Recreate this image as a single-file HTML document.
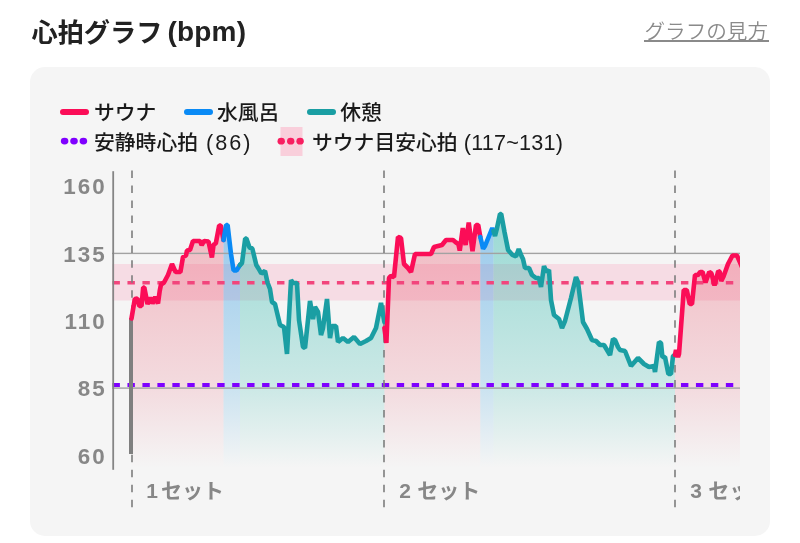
<!DOCTYPE html>
<html lang="ja">
<head>
<meta charset="utf-8">
<title>心拍グラフ</title>
<style>
html,body{margin:0;padding:0;background:#fff;}
body{width:800px;height:543px;position:relative;overflow:hidden;font-family:"Liberation Sans","Noto Sans CJK JP",sans-serif;}
.title{position:absolute;left:31.5px;top:14px;font-size:26.2px;font-weight:700;color:#222;line-height:38px;white-space:nowrap;}
.tl{font-size:28px;letter-spacing:0.2px;margin-left:-3px;position:relative;top:-1px;}
.la{font-size:21.6px;letter-spacing:2px;margin-left:0px;}
.lb{font-size:21.6px;letter-spacing:0.2px;margin-left:0;}
.link{position:absolute;left:644.5px;top:16.5px;font-size:20.6px;font-weight:350;color:#8a8a8a;line-height:30px;white-space:nowrap;}
.link u{text-decoration:none;}
.ul{position:absolute;left:644px;top:40px;width:124.5px;height:1.6px;background:#8a8a8a;}
.card{position:absolute;left:29.8px;top:66.5px;width:740.2px;height:469.7px;background:#f5f5f5;border-radius:15px;}
.lg{position:absolute;font-size:20.8px;font-weight:500;color:#1a1a1a;line-height:30px;white-space:nowrap;}
.la{font-weight:400;}
.pill{position:absolute;height:6px;border-radius:3px;width:29px;}
.ylab{position:absolute;width:64px;text-align:right;font-size:22.4px;font-weight:700;color:#878787;line-height:24px;letter-spacing:2px;}
.xlab{position:absolute;font-size:21px;font-weight:700;color:#878787;line-height:24px;white-space:nowrap;letter-spacing:0px;}
.xlab b{font-size:21px;margin-right:3px;}
svg{position:absolute;left:0;top:0;}
</style>
</head>
<body>
<div class="title">心拍グラフ<span class="tl"> (bpm)</span></div>
<div class="link"><u>グラフの見方</u></div><div class="ul"></div>
<div class="card"></div>

<div class="pill" style="left:60.4px;top:108.7px;background:#fb0d57"></div>
<div class="lg" style="left:94px;top:97.7px;">サウナ</div>
<div class="pill" style="left:184px;top:108.7px;background:#0a8af5"></div>
<div class="lg" style="left:217px;top:97.7px;">水風呂</div>
<div class="pill" style="left:307.2px;top:108.7px;background:#1a9ea3"></div>
<div class="lg" style="left:340.2px;top:97.7px;">休憩</div>
<div class="lg" style="left:94px;top:128px;">安静時心拍<span class="la"> (86)</span></div>
<div class="lg" style="left:312px;top:128px;">サウナ目安心拍<span class="la lb"> (117~131)</span></div>

<div class="ylab" style="left:42.6px;top:175.2px;">160</div>
<div class="ylab" style="left:42.6px;top:242.6px;">135</div>
<div class="ylab" style="left:42.6px;top:310px;">110</div>
<div class="ylab" style="left:42.6px;top:377.4px;">85</div>
<div class="ylab" style="left:42.6px;top:444.8px;">60</div>

<svg width="800" height="543" viewBox="0 0 800 543">
<defs>
<linearGradient id="gr" gradientUnits="userSpaceOnUse" x1="0" y1="225" x2="0" y2="468"><stop offset="0" stop-color="#e8405a" stop-opacity="0.33"/><stop offset="0.68" stop-color="#e8405a" stop-opacity="0.14"/><stop offset="1" stop-color="#e8405a" stop-opacity="0"/></linearGradient>
<linearGradient id="gb" gradientUnits="userSpaceOnUse" x1="0" y1="225" x2="0" y2="468"><stop offset="0" stop-color="#2f96e2" stop-opacity="0.46"/><stop offset="0.68" stop-color="#3aa4e0" stop-opacity="0.22"/><stop offset="1" stop-color="#3aa4e0" stop-opacity="0"/></linearGradient>
<linearGradient id="gg" gradientUnits="userSpaceOnUse" x1="0" y1="225" x2="0" y2="468"><stop offset="0" stop-color="#22b5a8" stop-opacity="0.42"/><stop offset="0.68" stop-color="#22b5a8" stop-opacity="0.19"/><stop offset="1" stop-color="#22b5a8" stop-opacity="0"/></linearGradient>
<clipPath id="cp"><rect x="100" y="160" width="640" height="360"/></clipPath>
</defs>
<!-- legend dots -->
<g fill="#7f00ff"><ellipse cx="64.6" cy="141.1" rx="3.8" ry="3.4"/><ellipse cx="74" cy="141.1" rx="3.8" ry="3.4"/><ellipse cx="83.4" cy="141.1" rx="3.8" ry="3.4"/></g>
<rect x="280.5" y="127" width="22" height="29" fill="#f9cfdb"/>
<g fill="#f81e60"><ellipse cx="281.2" cy="141.2" rx="3.7" ry="3.4"/><ellipse cx="290.7" cy="141.2" rx="3.7" ry="3.4"/><ellipse cx="300.1" cy="141.2" rx="3.7" ry="3.4"/></g>

<g clip-path="url(#cp)">
<!-- target band -->
<rect x="112" y="264" width="628" height="36.5" fill="#ff6f9c" fill-opacity="0.18"/>
<!-- grid lines -->
<path d="M131.5,318.5 L134.8,299 L137.4,298.6 L139.3,306 L141.5,306 L143.2,287.5 L144.3,287.5 L147.5,304 L150.3,297.5 L152.5,303.5 L155.3,297 L158,303.5 L159.7,291 L161,284.5 L164,282.5 L168,275 L172,264 L175.6,272 L180.4,272 L183,257 L186,255.5 L187,250.5 L190,250 L193,241 L200,241 L201.7,245 L204,241 L208.5,241.5 L211.9,257.5 L213.6,244.5 L215.8,243.5 L219.2,225.5 L220.8,225.5 L223.5,240 L223.5,468 L131.5,468 Z" fill="url(#gr)"/>
<path d="M223.5,240 L226.2,225 L227.6,225 L231,254 L233.6,270.5 L236.5,270.5 L240,265 L240,468 L223.5,468 Z" fill="url(#gb)"/>
<path d="M240,265 L242,263 L245.2,238.5 L246.4,238.5 L249.5,247.5 L252.3,248.5 L256.3,265 L258.5,268.5 L261.3,273.5 L265,271 L267.5,282.5 L270,289 L272,302 L275,304 L280,325 L284,327 L287,354 L291,280 L293,283 L297,283 L299,320 L303,347 L305,348 L310,301 L313,319 L315,307 L318,312 L321,335 L323,328 L327,299 L330,338 L332,326 L336,326 L338,342 L343,338 L348,342 L354,337 L360,344 L366,341 L371,338 L376,328 L381,303 L384.4,322 L384.4,468 L240,468 Z" fill="url(#gg)"/>
<path d="M384.4,328 L386.4,343 L389,278 L391,276 L394,277 L398,237 L401,238 L404,264 L408,268 L411,272 L415,254 L431,254 L434,247 L442,245 L446,240 L453,240 L456,242.5 L458.4,244 L459.75,250.6 L462.8,228.1 L465.6,245 L468.75,222.5 L472.5,251.2 L476,225 L478.2,225 L480.3,237 L480.3,468 L384.4,468 Z" fill="url(#gr)"/>
<path d="M480.3,237 L483.1,248.7 L485,246 L492.3,228 L493.5,231 L493.5,468 L480.3,468 Z" fill="url(#gb)"/>
<path d="M493.5,231 L495,236 L496.8,229 L500,214 L501.2,214 L504.5,232 L508.1,250 L512.5,255 L516,256.5 L518.75,249 L521.5,256 L523,259 L525,268 L529,268 L532,275 L536,278 L539,278 L541,287 L544,266 L546.4,272 L549,270 L551,300 L554,315 L559,319 L562,328 L565,321 L571,298 L576,277 L578,282 L583,322 L587,329 L592,340 L596,341 L600,345 L604,345 L610,355 L613,339 L615,340 L618,347 L620,350 L625,351 L631,366 L638,358 L644,364 L649,367 L654,366 L655,372 L659,342 L661,343 L662.4,357 L665,357 L668.4,374 L671,374 L673,356 L675,355 L675,468 L493.5,468 Z" fill="url(#gg)"/>
<path d="M675,355 L676,350 L678,357 L679,354 L683.75,290 L686.75,290 L689.75,304 L692,304 L695,275 L698,275 L700.25,272 L702.5,272 L705.5,282.5 L709.25,272 L711.5,273.5 L714.5,285.5 L718.25,271 L719.75,272 L721.25,281 L723.5,276.5 L728,264 L732.5,255.5 L737,255.5 L742,267 L742,468 L675,468 Z" fill="url(#gr)"/>
<rect x="112" y="252.7" width="628" height="1.4" fill="#a2a2a2"/>
<rect x="112" y="387.4" width="628" height="1.4" fill="#a2a2a2"/>
<!-- pink dashed -->
<line x1="112" y1="282.7" x2="740" y2="282.7" stroke="#f2457c" stroke-width="3.6" stroke-dasharray="7.4 7.56" stroke-dashoffset="-0.5"/>
<!-- purple dashed -->
<line x1="112" y1="385.1" x2="740" y2="385.1" stroke="#7f00ff" stroke-width="4" stroke-dasharray="7.4 7.56" stroke-dashoffset="-0.5"/>
<!-- set separators -->
<g stroke="#7d7d7d" stroke-width="1.6" stroke-dasharray="7.5 7.46">
<line x1="132" y1="170.6" x2="132" y2="509"/>
<line x1="384" y1="170.6" x2="384" y2="509"/>
<line x1="675" y1="170.6" x2="675" y2="509"/>
</g>
<rect x="129" y="318" width="4" height="136" fill="#7f7f7f"/>
<path d="M131.5,318.5 L134.8,299 L137.4,298.6 L139.3,306 L141.5,306 L143.2,287.5 L144.3,287.5 L147.5,304 L150.3,297.5 L152.5,303.5 L155.3,297 L158,303.5 L159.7,291 L161,284.5 L164,282.5 L168,275 L172,264 L175.6,272 L180.4,272 L183,257 L186,255.5 L187,250.5 L190,250 L193,241 L200,241 L201.7,245 L204,241 L208.5,241.5 L211.9,257.5 L213.6,244.5 L215.8,243.5 L219.2,225.5 L220.8,225.5 L223.5,240" fill="none" stroke="#fb0d57" stroke-width="4.6" stroke-linejoin="bevel" stroke-linecap="round"/>
<path d="M223.5,240 L226.2,225 L227.6,225 L231,254 L233.6,270.5 L236.5,270.5 L240,265" fill="none" stroke="#0a8af5" stroke-width="4.6" stroke-linejoin="bevel" stroke-linecap="round"/>
<path d="M240,265 L242,263 L245.2,238.5 L246.4,238.5 L249.5,247.5 L252.3,248.5 L256.3,265 L258.5,268.5 L261.3,273.5 L265,271 L267.5,282.5 L270,289 L272,302 L275,304 L280,325 L284,327 L287,354 L291,280 L293,283 L297,283 L299,320 L303,347 L305,348 L310,301 L313,319 L315,307 L318,312 L321,335 L323,328 L327,299 L330,338 L332,326 L336,326 L338,342 L343,338 L348,342 L354,337 L360,344 L366,341 L371,338 L376,328 L381,303 L384.4,322" fill="none" stroke="#1a9ea3" stroke-width="4.6" stroke-linejoin="bevel" stroke-linecap="round"/>
<path d="M384.4,328 L386.4,343 L389,278 L391,276 L394,277 L398,237 L401,238 L404,264 L408,268 L411,272 L415,254 L431,254 L434,247 L442,245 L446,240 L453,240 L456,242.5 L458.4,244 L459.75,250.6 L462.8,228.1 L465.6,245 L468.75,222.5 L472.5,251.2 L476,225 L478.2,225 L480.3,237" fill="none" stroke="#fb0d57" stroke-width="4.6" stroke-linejoin="bevel" stroke-linecap="round"/>
<path d="M480.3,237 L483.1,248.7 L485,246 L492.3,228 L493.5,231" fill="none" stroke="#0a8af5" stroke-width="4.6" stroke-linejoin="bevel" stroke-linecap="round"/>
<path d="M493.5,231 L495,236 L496.8,229 L500,214 L501.2,214 L504.5,232 L508.1,250 L512.5,255 L516,256.5 L518.75,249 L521.5,256 L523,259 L525,268 L529,268 L532,275 L536,278 L539,278 L541,287 L544,266 L546.4,272 L549,270 L551,300 L554,315 L559,319 L562,328 L565,321 L571,298 L576,277 L578,282 L583,322 L587,329 L592,340 L596,341 L600,345 L604,345 L610,355 L613,339 L615,340 L618,347 L620,350 L625,351 L631,366 L638,358 L644,364 L649,367 L654,366 L655,372 L659,342 L661,343 L662.4,357 L665,357 L668.4,374 L671,374 L673,356 L675,355" fill="none" stroke="#1a9ea3" stroke-width="4.6" stroke-linejoin="bevel" stroke-linecap="round"/>
<path d="M675,355 L676,350 L678,357 L679,354 L683.75,290 L686.75,290 L689.75,304 L692,304 L695,275 L698,275 L700.25,272 L702.5,272 L705.5,282.5 L709.25,272 L711.5,273.5 L714.5,285.5 L718.25,271 L719.75,272 L721.25,281 L723.5,276.5 L728,264 L732.5,255.5 L737,255.5 L742,267" fill="none" stroke="#fb0d57" stroke-width="4.6" stroke-linejoin="bevel" stroke-linecap="round"/>
</g>
<!-- y axis -->
<rect x="112.3" y="171.2" width="1.8" height="298.6" fill="#858585"/>
</svg>

<div class="xlab" style="left:146.3px;top:479px;"><b>1</b>セット</div>
<div class="xlab" style="left:399.3px;top:479px;"><b style="margin-right:6.2px">2</b>セット</div>
<div class="xlab" style="left:690.3px;top:479px;width:49.7px;overflow:hidden;"><b style="margin-right:6.2px">3</b>セット</div>
</body>
</html>
